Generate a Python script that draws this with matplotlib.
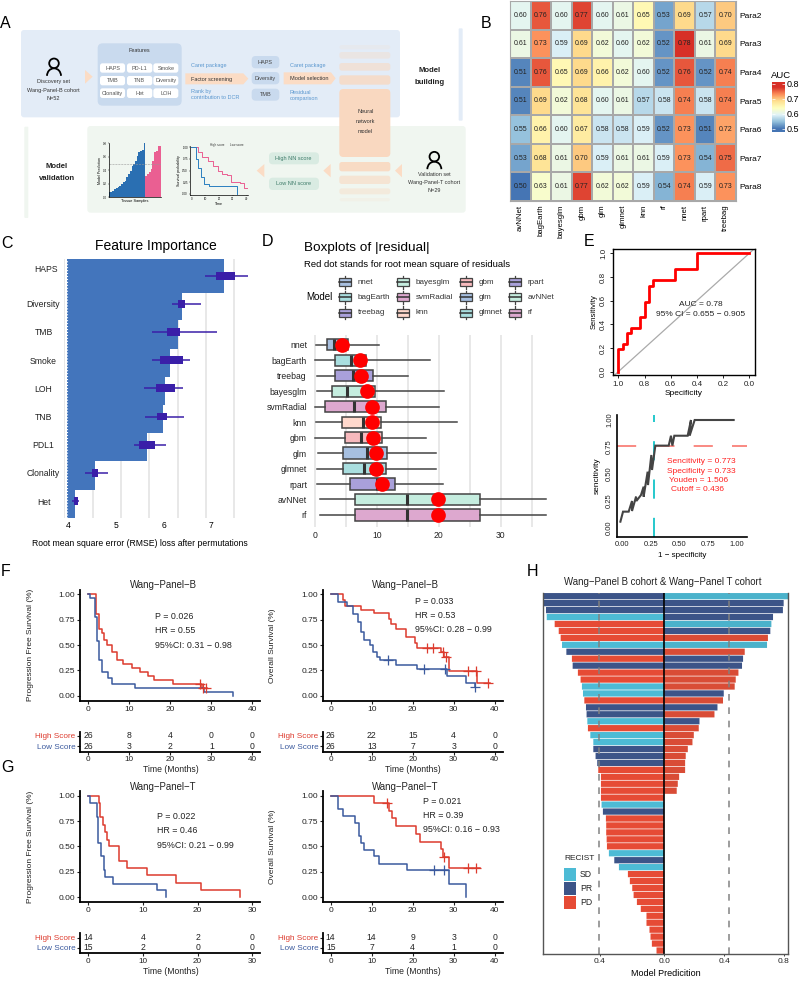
import matplotlib
matplotlib.use("Agg")
import matplotlib.pyplot as plt
import numpy as np
from matplotlib.colors import LinearSegmentedColormap
from matplotlib.patches import Arc, Circle, FancyBboxPatch, Polygon, Rectangle

plt.rcParams["font.family"] = ["Liberation Sans", "DejaVu Sans"]

W, H = 800, 981

# ---- panel B
HEAT_MODELS = ["avNNet", "bagEarth", "bayesglm", "gbm", "glm", "glmnet", "knn", "rf", "nnet", "rpart", "treebag"]
HEAT_PARAS = ["Para2", "Para3", "Para4", "Para5", "Para6", "Para7", "Para8"]
AUC = [
    [.60, .76, .60, .77, .60, .61, .65, .53, .69, .57, .70],
    [.61, .73, .59, .69, .62, .60, .62, .52, .78, .61, .69],
    [.51, .76, .65, .69, .66, .62, .60, .52, .76, .52, .74],
    [.51, .69, .62, .68, .60, .61, .57, .58, .74, .58, .74],
    [.55, .66, .60, .67, .58, .58, .59, .52, .73, .51, .72],
    [.53, .68, .61, .70, .59, .61, .61, .59, .73, .54, .75],
    [.50, .63, .61, .77, .62, .62, .59, .54, .74, .59, .73],
]
AUC_TICKS = [0.5, 0.6, 0.7, 0.8]

# ---- panel C
FEATURES = ["HAPS", "Diversity", "TMB", "Smoke", "LOH", "TNB", "PDL1", "Clonality", "Het"]
RMSE_BAR = [7.27, 6.38, 6.29, 6.14, 6.03, 5.99, 5.66, 4.57, 4.15]
RMSE_LO = [6.87, 6.17, 5.76, 5.76, 5.59, 5.60, 5.38, 4.34, 4.08]
RMSE_Q1 = [7.10, 6.30, 6.08, 5.92, 5.84, 5.85, 5.48, 4.50, 4.11]
RMSE_Q3 = [7.50, 6.45, 6.35, 6.40, 6.23, 6.07, 5.81, 4.62, 4.20]
RMSE_HI = [7.76, 6.79, 7.12, 6.55, 6.41, 6.43, 6.04, 4.83, 4.22]

# ---- panel D
RES_MODELS = ["nnet", "bagEarth", "treebag", "bayesglm", "svmRadial", "knn", "gbm", "glm", "glmnet", "rpart", "avNNet", "rf"]
RES_LO = [0.1, 0.0, 0.3, 0.4, 0.0, 0.15, 0.05, 0.5, 0.3, 0.3, 0.8, 0.8]
RES_Q1 = [2.0, 3.2, 3.3, 2.7, 1.6, 4.4, 4.8, 4.6, 4.6, 5.7, 6.4, 6.4]
RES_MED = [3.1, 5.8, 6.2, 5.1, 6.35, 7.7, 7.5, 8.45, 7.9, 10.0, 14.9, 14.9]
RES_Q3 = [5.4, 8.3, 9.4, 9.7, 11.4, 10.7, 10.8, 11.6, 11.5, 13.0, 26.7, 26.7]
RES_HI = [10.3, 18.6, 15.0, 20.8, 20.1, 23.0, 18.0, 19.6, 19.5, 20.7, 37.3, 37.3]
RES_RMS = [4.4, 7.3, 7.5, 8.45, 9.15, 9.2, 9.35, 9.8, 9.8, 10.8, 19.8, 19.8]
RES_COLORS = ["#a8bfdf", "#a9dedf", "#a9a0da", "#c5eddf", "#dda8cf", "#ffd8cc",
              "#f7b9bd", "#a6bfe0", "#a9dedf", "#a9a0da", "#c5eddf", "#dda8cf"]

# ---- panel E
ROC_SPEC = [1, 1, .967, .936, .903, .835, .80, .768, .733, .565, .40, 0]
ROC_SENS = [0, .19, .234, .324, .366, .459, .59, .727, .775, .868, 1, 1]
CUT_X = [-.014, .009, .058, .087, .087, .122, .125, .165, .188, .188, .223, .226, .255, .261, .29,
         .406, .426, .438, .455, .571, .6, .588, .632, .971]
CUT_Y = [.056, .149, .149, .248, .155, .288, .248, .303, .381, .288, .52, .396, .675, .536, .762,
         .762, .854, .762, .854, .854, 1, .854, 1, 1]

# ---- panels F, G
F1_HI_T = [0, 1.9, 2.6, 3.25, 3.8, 4.5, 5.7, 7.1, 8.4, 10.7, 12.6, 14.5, 16.1, 20.7, 27.8, 29]
F1_HI_S = [1, .81, .66, .615, .55, .5, .43, .35, .31, .27, .235, .195, .155, .12, .08, .08]
F1_LO_T = [0, .4, 1.7, 2.0, 2.5, 3.25, 4.7, 5.7, 11.4, 28.2, 35.2]
F1_LO_S = [1, .96, .78, .54, .35, .23, .17, .12, .08, .04, 0]
F1_HI_CENS = ([27.2, 28, 28.7], [.115, .077, .077])
F1_LO_CENS = ([], [])

F2_HI_T = [0, 2.9, 3.5, 7.4, 10.65, 14.1, 14.6, 15.9, 18.3, 20.6, 21, 27, 27.6, 28.9, 35.8, 38.9]
F2_HI_S = [1, .94, .885, .85, .815, .76, .71, .66, .575, .52, .47, .43, .38, .245, .13, .13]
F2_LO_T = [0, 1.7, 4, 5.5, 6.75, 7.4, 8.2, 9.6, 10.4, 11.4, 12, 15.9, 21, 28.3, 32.9, 35.2]
F2_LO_S = [1, .925, .88, .81, .73, .63, .55, .5, .43, .385, .35, .305, .26, .195, .13, .085]
F2_HI_CENS = ([23.4, 25, 27.5, 28, 33.5, 35.4, 38.4], [.47, .47, .43, .38, .245, .245, .13])
F2_LO_CENS = ([14, 22.8, 27.8, 35.2], [.35, .26, .26, .085])

G1_HI_T = [0, 1.9, 2.1, 2.75, 3, 3.5, 3.8, 5.7, 7.1, 10.7, 16, 20.7, 27.7]
G1_HI_S = [1, .925, .785, .71, .645, .56, .5, .36, .285, .215, .14, .07, 0]
G1_LO_T = [0, .4, 1.5, 1.8, 2.4, 2.9, 3, 4.6, 12.5, 14.3]
G1_LO_S = [1, .93, .785, .53, .4, .265, .2, .13, .07, 0]

G2_HI_T = [0, 10.65, 14.1, 15, 16, 20.7, 21.9, 27, 27.5, 28.9, 36.4]
G2_HI_S = [1, .93, .85, .776, .70, .62, .54, .47, .39, .29, .29]
G2_LO_T = [0, 1.7, 2.9, 5.9, 6.8, 7.5, 8.2, 10.6, 11.9, 18.5, 28.9, 33]
G2_LO_S = [1, .865, .8, .73, .6, .535, .465, .4, .33, .265, .13, 0]
G2_HI_CENS = ([13.8, 27.7, 33.5, 35.4], [.93, .39, .29, .29])
G2_LO_CENS = ([25.3, 27.7], [.265, .265])

RISK_F1 = ([26, 8, 4, 0, 0], [26, 3, 2, 1, 0])
RISK_F2 = ([26, 22, 15, 4, 0], [26, 13, 7, 3, 0])
RISK_G1 = ([14, 4, 2, 0], [15, 2, 0, 0])
RISK_G2 = ([14, 14, 9, 3, 0], [15, 7, 4, 1, 0])

# ---- panel H
LEFT_PRED = [.807, .807, .789, .784, .731, .704, .691, .682, .653, .616, .611, .576, .558, .549, .542, .533,
             .522, .518, .513, .509, .493, .473, .473, .458, .447, .44, .422, .422, .422, .422, .418, .409,
             .389, .387, .387, .384, .382, .369, .333, .302, .242, .229, .213, .204, .182, .156, .118, .118,
             .098, .091, .082, .051]
LEFT_RECIST = ["PR", "PR", "PR", "SD", "PD", "PD", "PD", "SD", "PR", "PD", "PR", "PD", "PD", "SD", "SD", "PD",
               "PR", "PR", "SD", "PD", "SD", "SD", "PR", "PR", "PR", "PD", "PD", "PD", "PD", "PD", "SD", "PR",
               "PD", "PD", "PD", "PD", "PD", "SD", "PR", "SD", "PD", "PD", "PD", "PD", "PD", "PD", "PD", "PD",
               "PD", "PD", "PD", "PD"]
RIGHT_PRED = [.829, .798, .793, .727, .716, .709, .693, .687, .538, .527, .52, .496, .478, .471, .398, .393,
              .356, .336, .236, .231, .198, .189, .158, .144, .14, .14, .1, .091, .084]
RIGHT_RECIST = ["SD", "PR", "PR", "PR", "SD", "PR", "PD", "SD", "PD", "PR", "PR", "PD", "PD", "PD", "PR", "PD",
                "PR", "PD", "PR", "PD", "PD", "PD", "PD", "PD", "PD", "PD", "PD", "PD", "PD"]
RECIST_COLORS = {"SD": "#4dbbd5", "PR": "#3c5488", "PD": "#e64b35"}
RECIST_COLORS_R = {"SD": "#4bb2cb", "PR": "#3c5488", "PD": "#d94c36"}

# ---- panel A small charts
MINI_BLUE = [.074, .084, .099, .123, .138, .148, .173, .198, .222, .247, .296, .346, .395, .469, .494, .543,
             .617, .667, .691, .701, .8]
MINI_PINK = [.321, .346, .37, .42, .543, .667, .691, .765, .765]
MINI_HI_T = [0, 5, 8, 12, 16, 19, 22, 26, 29, 35, 38, 40]
MINI_HI_S = [1, .9, .8, .7, .6, .5, .42, .4, .25, .24, .12, .12]
MINI_LO_T = [0, 3, 5, 7, 9, 13, 33]
MINI_LO_S = [1, .75, .55, .35, .2, .17, 0]

RED, BLUE = "#dd3b2e", "#3b5a9e"

fig = plt.figure(figsize=(W / 100, H / 100), dpi=100)


def px_axes(l, t, r, b, **kw):
    return fig.add_axes([l / W, 1 - b / H, (r - l) / W, (b - t) / H], **kw)


ov = fig.add_axes([0, 0, 1, 1], zorder=10)
ov.set_xlim(0, W)
ov.set_ylim(H, 0)
ov.axis("off")


def z(x, y):
    # panel A was measured on a 3x crop
    return x / 3, y / 3


def rbox(x0, y0, x1, y1, color, r=3, alpha=1.0):
    a, b = z(x0, y0)
    c, d = z(x1, y1)
    ov.add_patch(FancyBboxPatch((a + r, b + r), c - a - 2 * r, d - b - 2 * r, boxstyle=f"round,pad={r}",
                                fc=color, ec="none", alpha=alpha))


def ztext(x, y, s, size=4.0, color="#333333", ha="center", **kw):
    a, b = z(x, y)
    ov.text(a, b, s, fontsize=size, color=color, ha=ha, va="center", **kw)


def person(x, y):
    a, b = z(x, y)
    ov.add_patch(Circle((a, b), 4.8, fc="none", ec="black", lw=1.3))
    ov.add_patch(Arc((a, b + 12.5), 14, 15, theta1=180, theta2=360, ec="black", lw=1.3))


def tri(pts, color="#fbdcc5"):
    ov.add_patch(Polygon([z(*p) for p in pts], fc=color, ec="none"))


# ---- panel A
BLUE_BG, GREEN_BG, ORANGE, CHIP_BLUE, CHIP_GREEN = "#e3ecf7", "#f0f6f0", "#f9d8c0", "#c9daee", "#d9ebe2"
LINK = "#5b97cf"
rbox(63, 90, 1200, 352, BLUE_BG)
rbox(262, 378, 1397, 638, GREEN_BG)
rbox(1376, 85, 1388, 362, BLUE_BG, r=1)
rbox(73, 380, 85, 654, GREEN_BG, r=1)

person(162, 190)
ztext(161, 246, "Discovery set")
ztext(161, 271, "Wang-Panel-B cohort")
ztext(161, 295, "N=52")
tri([(255, 210), (278, 230), (255, 251)])

rbox(293, 130, 545, 317, CHIP_BLUE, r=5)
ztext(419, 151, "Features")
chip_names = [["HAPS", "PD-L1", "Smoke"], ["TMB", "TNB", "Diversity"], ["Clonality", "Het", "LOH"]]
for ry, row_names in zip([(190, 218), (228, 256), (265, 294)], chip_names):
    for cx, nm in zip([(300, 375), (381, 457), (460, 535)], row_names):
        rbox(cx[0], ry[0], cx[1], ry[1], "white", r=2.5)
        ztext(sum(cx) / 2, sum(ry) / 2, nm, color="#555555")

tri([(556, 220), (730, 220), (745, 236), (730, 253), (556, 253)])
ztext(572, 237, "Factor screening", ha="left")
ztext(572, 197, "Caret package", ha="left", color=LINK)
ztext(572, 275, "Rank by", ha="left", color=LINK)
ztext(572, 293, "contribution to DCR", ha="left", color=LINK)
for (y0, y1), nm in zip([(168, 205), (216, 253), (266, 302)], ["HAPS", "Diversity", "TMB"]):
    rbox(755, y0, 838, y1, CHIP_BLUE, r=4)
    ztext(796, (y0 + y1) / 2, nm, color="#444444")
tri([(851, 217), (993, 217), (1007, 235), (993, 253), (851, 253)])
ztext(870, 236, "Model selection", ha="left")
ztext(870, 197, "Caret package", ha="left", color=LINK)
ztext(869, 276, "Residual", ha="left", color=LINK)
ztext(869, 295, "comparison", ha="left", color=LINK)

for (y0, y1), al in zip([(135, 148), (156, 176), (189, 212), (226, 254), (486, 514), (527, 552), (565, 583), (594, 604)],
                        [.15, .35, .55, .8, .9, .6, .4, .15]):
    rbox(1018, y0, 1171, y1, ORANGE, r=2.5, alpha=al)
rbox(1018, 267, 1171, 471, ORANGE, r=4)
for yy, s in zip([335, 365, 395], ["Neural", "network", "model"]):
    ztext(1096, yy, s)
ztext(1290, 212, "Model", size=5.6, weight="bold", color="#222222")
ztext(1290, 247, "building", size=5.6, weight="bold", color="#222222")
ztext(170, 501, "Model", size=5.6, weight="bold", color="#222222")
ztext(170, 535, "validation", size=5.6, weight="bold", color="#222222")

rbox(807, 457, 957, 493, CHIP_GREEN, r=4)
rbox(807, 533, 957, 570, CHIP_GREEN, r=4)
ztext(881, 476, "High NN score", color="#3c7a68")
ztext(881, 551, "Low NN score", color="#3c7a68")
for tipx, basex in [(770, 793), (970, 992), (1185, 1206)]:
    tri([(basex, 492), (tipx, 512), (basex, 532)])
person(1303, 470)
ztext(1303, 524, "Validation set")
ztext(1303, 548, "Wang-Panel-T cohort")
ztext(1303, 573, "N=29")

mini_bar = px_axes(109, 143.3, 161, 197.3, zorder=11)
xb = np.arange(len(MINI_BLUE))
xp = len(MINI_BLUE) + np.arange(len(MINI_PINK))
mini_bar.bar(xb, MINI_BLUE, width=1, color="#2a6fb2")
mini_bar.bar(xp, MINI_PINK, width=1, color="#ea5f92")
mini_bar.axhline(.5, color="#999999", lw=.4, ls="--")
mini_bar.set_xlim(-.5, len(MINI_BLUE) + len(MINI_PINK) - .5)
mini_bar.set_ylim(0, .8)
mini_bar.set_xticks([])
mini_bar.set_yticks([0, .2, .4, .6, .8], ["0.0", "0.2", "0.4", "0.6", "0.8"])
mini_bar.tick_params(labelsize=2, length=1, width=.3, pad=.5)
mini_bar.set_facecolor("none")
mini_bar.set_xlabel("Tissue Samples", fontsize=2.8, labelpad=1)
mini_bar.set_ylabel("Model Prediction", fontsize=2.6, labelpad=1)
for sp in ["top", "right"]:
    mini_bar.spines[sp].set_visible(False)
for sp in ["left", "bottom"]:
    mini_bar.spines[sp].set_linewidth(.5)

mini_km = px_axes(190, 146, 248, 195, zorder=11)
mini_km.step(MINI_HI_T, MINI_HI_S, where="post", color="#ea5f92", lw=.7)
mini_km.step(MINI_LO_T, MINI_LO_S, where="post", color="#2a7fc0", lw=.7)
mini_km.set_xlim(-1, 41)
mini_km.set_ylim(-.03, 1.03)
mini_km.set_xticks([0, 10, 20, 30, 40])
mini_km.set_yticks([0, .25, .5, .75, 1], ["0.00", "0.25", "0.50", "0.75", "1.00"])
mini_km.tick_params(labelsize=2, length=1, width=.3, pad=.5)
mini_km.set_facecolor("none")
mini_km.set_xlabel("Time", fontsize=2.6, labelpad=.5)
mini_km.set_ylabel("Survival probability", fontsize=2.6, labelpad=1)
for sp in ["top", "right"]:
    mini_km.spines[sp].set_visible(False)
for sp in ["left", "bottom"]:
    mini_km.spines[sp].set_linewidth(.5)
ztext(630, 435, "High score", size=2.2, ha="left")
ztext(690, 435, "Low score", size=2.2, ha="left")

# ---- panel B
heat_cmap = LinearSegmentedColormap.from_list(
    "auc", ["#4575b4", "#91bfdb", "#e0f3f8", "#ffffbf", "#fee090", "#fc8d59", "#d73027"])
ax = px_axes(510, 1, 736, 201)
ax.pcolormesh(AUC, cmap=heat_cmap, vmin=.5, vmax=.78, edgecolors="#a8a8a8", linewidth=1.2)
ax.set_ylim(len(HEAT_PARAS), 0)
for i, row in enumerate(AUC):
    for j, v in enumerate(row):
        ax.text(j + .5, i + .5, f"{v:.2f}", ha="center", va="center", fontsize=5, color="#222222")
ax.set_xticks(np.arange(len(HEAT_MODELS)) + .5, HEAT_MODELS, rotation=90, fontsize=5.6)
ax.yaxis.tick_right()
ax.set_yticks(np.arange(len(HEAT_PARAS)) + .5, HEAT_PARAS, fontsize=6)
ax.tick_params(length=0, pad=2.5)
for sp in ax.spines.values():
    sp.set_color("#a8a8a8")

cb = px_axes(772, 82, 785, 132)
cb_vals = np.linspace(.813, .48, 100).reshape(-1, 1)
cb.imshow(cb_vals, aspect="auto", cmap=heat_cmap, vmin=.5, vmax=.78, extent=(0, 1, .48, .813))
cb.set_xticks([])
cb.yaxis.tick_right()
cb.set_yticks(AUC_TICKS, [f"{t:.1f}" for t in AUC_TICKS], fontsize=6.5)
cb.tick_params(axis="y", length=0, pad=1.5)
cb.hlines(AUC_TICKS, 0, .2, color="white", lw=.5)
cb.hlines(AUC_TICKS, .8, 1, color="white", lw=.5)
for sp in cb.spines.values():
    sp.set_visible(False)
ov.text(781, 75, "AUC", fontsize=6.8, ha="center", va="center")

# ---- panel C
ax = px_axes(64, 259, 250, 518)
ax.set_xlim(3.91, 7.81)
ax.set_ylim(8.6, -.59)
ax.vlines([3.916, 4.51, 5.10, 5.70, 6.29, 6.89, 7.48], 8.6, -.59, color="#e4e4e4", lw=1.2, zorder=0)
rows = np.arange(len(FEATURES))
offsets = [0] + [.09] * (len(FEATURES) - 1)
heights = [1.2] + [1.0] * (len(FEATURES) - 1)
ax.barh(rows + np.array(offsets), np.array(RMSE_BAR) - 3.965, left=3.965, height=heights, color="#4375bc", zorder=1)
ax.vlines(3.965, 8.6, -.59, color="white", lw=.8, ls=":", zorder=2)
ax.hlines(rows, RMSE_LO, RMSE_HI, color="#3a1fa8", lw=1.1, zorder=3)
ax.barh(rows, np.array(RMSE_Q3) - np.array(RMSE_Q1), left=RMSE_Q1, height=.28, color="#3a1fa8", zorder=4)
ax.set_yticks([])
ax.set_xticks([4, 5, 6, 7])
ax.tick_params(axis="x", length=0, labelsize=6.2, pad=2.5)
for sp in ax.spines.values():
    sp.set_visible(False)
for i, nm in enumerate(FEATURES):
    ov.text(46 if i == 0 else 43.5, 235 + ((102 if i == 0 else 209 + 84.6 * (i - 1)) / 3), nm,
            fontsize=6.2, ha="center", va="center", color="#222222")
ov.text(156, 246, "Feature Importance", fontsize=10, ha="center", va="center")
ov.text(139.5, 544, "Root mean square error (RMSE) loss after permutations", fontsize=6.2, ha="center", va="center")

# ---- panel D
ax = px_axes(309, 335, 547, 527)
ax.set_xlim(-6 / 6.19, 232 / 6.19)
ax.vlines(np.arange(0, 36, 5), 12, -1, color="#e4e4e4", lw=1.2, zorder=0)
stats = [dict(med=m, q1=a, q3=b, whislo=lo, whishi=hi, fliers=[])
         for m, a, b, lo, hi in zip(RES_MED, RES_Q1, RES_Q3, RES_LO, RES_HI)]
bp = ax.bxp(stats, positions=np.arange(len(stats)), widths=.72, orientation="horizontal", patch_artist=True,
            showcaps=False, showfliers=False,
            boxprops=dict(edgecolor="#444444", linewidth=1.1),
            whiskerprops=dict(color="#444444", linewidth=1.1),
            medianprops=dict(color="#333333", linewidth=2.2))
for box, col in zip(bp["boxes"], RES_COLORS):
    box.set_facecolor(col)
ax.scatter(RES_RMS, np.arange(len(RES_RMS)), s=112, color="#ff0000", zorder=5, linewidths=0)
ax.set_ylim(11.5 + (527 - 522.6) / 15.8, -.63)
ax.set_yticks(np.arange(len(RES_MODELS)), RES_MODELS)
ax.set_xticks([0, 10, 20, 30], ["0", "10", "20", "30"])
ax.tick_params(length=0, labelsize=6.2, colors="#222222")
ax.tick_params(axis="y", pad=1.5)
ax.tick_params(axis="x", pad=3)
for sp in ax.spines.values():
    sp.set_visible(False)

ov.text(304, 248, "Boxplots of |residual|", fontsize=9.7, ha="left", va="center")
ov.text(303.5, 264.5, "Red dot stands for root mean square of residuals", fontsize=6.8, ha="left", va="center")
ov.text(306, 297.5, "Model", fontsize=7, ha="left", va="center")
for idx, nm in enumerate(["nnet", "bagEarth", "treebag", "bayesglm", "svmRadial", "knn",
                          "gbm", "glm", "glmnet", "rpart", "avNNet", "rf"]):
    col, row = idx // 3, idx % 3
    cx = [345, 403.3, 466, 515][col]
    tx = [358, 416, 478.7, 528][col]
    cy = 282 + row * 15.4
    fc = RES_COLORS[RES_MODELS.index(nm)]
    ov.plot([cx, cx], [cy - 6.5, cy + 6.5], color="#444444", lw=.9, zorder=1)
    ov.add_patch(Rectangle((cx - 6, cy - 4), 12, 8, fc=fc, ec="#444444", lw=.9, zorder=2))
    ov.plot([cx - 6, cx + 6], [cy, cy], color="#333333", lw=1.1, zorder=3)
    ov.text(tx, cy, nm, fontsize=5.8, ha="left", va="center", color="#333333")

# ---- panel E
ax = px_axes(612.7, 249, 754.7, 375)
ax.set_xlim(1 + 5.6 / 131, -5.4 / 131)
ax.set_ylim(-3.3 / 118.4, 1 + 4.3 / 118.4)
ax.plot([1.05, -.05], [-.05, 1.05], color="#aaaaaa", lw=.9)
ax.step(ROC_SPEC, ROC_SENS, where="post", color="#ff0000", lw=2)
ax.set_xticks([1, .8, .6, .4, .2, 0], ["1.0", "0.8", "0.6", "0.4", "0.2", "0.0"])
ax.set_yticks([0, .2, .4, .6, .8, 1], ["0.0", "0.2", "0.4", "0.6", "0.8", "1.0"], rotation=90, va="center")
ax.tick_params(labelsize=5.8, length=2.5, width=.7, pad=1.5, colors="#222222")
ax.set_xlabel("Specificity", fontsize=6, labelpad=2)
ax.set_ylabel("Sensitivity", fontsize=5.5, labelpad=1.5)
for sp in ax.spines.values():
    sp.set_linewidth(1)
ov.text(700.5, 304, "AUC = 0.78", fontsize=6, ha="center", va="center", color="#222222")
ov.text(700.5, 314, "95% CI = 0.655 \u2212 0.905", fontsize=6, ha="center", va="center", color="#222222")

ax = px_axes(617.3, 415, 747, 537)
ax.set_xlim(-4.7 / 115, 125 / 115)
ax.set_ylim(-9.3 / 107.7, 1 + 5 / 107.7)
ax.axhline(.762, color="#f8766d", lw=1.2, dashes=(11.5, 11.5))
ax.axvline(.275, color="#00bfc4", lw=1.2, dashes=(11.5, 11.5))
ax.plot(CUT_X, CUT_Y, color="#444444", lw=1.5, solid_joinstyle="miter")
ax.set_xticks([0, .25, .5, .75, 1], ["0.00", "0.25", "0.50", "0.75", "1.00"])
ax.set_yticks([0, .25, .5, .75, 1], ["0.00", "0.25", "0.50", "0.75", "1.00"], rotation=90, va="center")
ax.tick_params(labelsize=5.5, length=0, pad=3, colors="#222222")
ax.set_xlabel("1 \u2212 specificity", fontsize=5.8, labelpad=2.5)
ax.set_ylabel("sencitivity", fontsize=6, labelpad=4)
for sp in ["top", "right"]:
    ax.spines[sp].set_visible(False)
for sp in ["left", "bottom"]:
    ax.spines[sp].set_linewidth(1.2)
for tx, yy, s in [(667, 461.7, "Sencitivity = 0.773"), (667, 471.7, "Specificity = 0.733"),
                  (669.3, 480, "Youden = 1.506"), (670.7, 489.3, "Cutoff = 0.436")]:
    ov.text(tx, yy, s, fontsize=6, color="#ff2020", ha="left", va="center")


# ---- panels F, G
def km(l, r, top, bot, x0, kx, y1, y0, ticks, hi, lo, hi_c, lo_c, ylabel, title, title_xy, notes, risk, rt, rb,
       ylab_x, r_rows, lab_xy):
    ax = px_axes(l, top, r, bot)
    ax.set_xlim((l - x0) / kx, (r - x0) / kx)
    ky = y0 - y1
    ax.set_ylim((y0 - bot) / ky, (y0 - top) / ky)
    ax.step(hi[0], hi[1], where="post", color=RED, lw=1.1)
    ax.step(lo[0], lo[1], where="post", color=BLUE, lw=1.1)
    if hi_c[0]:
        ax.plot(hi_c[0], hi_c[1], "+", color=RED, ms=7, mew=.9)
    if lo_c[0]:
        ax.plot(lo_c[0], lo_c[1], "+", color=BLUE, ms=7, mew=.9)
    ax.set_xticks(ticks)
    ax.set_yticks([0, .25, .5, .75, 1], ["0.00", "0.25", "0.50", "0.75", "1.00"])
    ax.tick_params(labelsize=6, length=2, width=.8, pad=1.5, colors="#222222")
    for sp in ["top", "right"]:
        ax.spines[sp].set_visible(False)
    for sp in ["left", "bottom"]:
        ax.spines[sp].set_linewidth(1.3)
    ov.text(ylab_x, (top + bot) / 2, ylabel, rotation=90, fontsize=6, ha="center", va="center", color="#222222")
    ov.text(title_xy[0], title_xy[1], title, fontsize=6.9, ha="center", va="center", color="#222222")
    for (nx, ny), s in notes:
        ov.text(nx, ny, s, fontsize=6.4, ha="left", va="center", color="#222222")

    # number at risk table under the curves
    tb = px_axes(l, rt, r, rb)
    tb.set_xlim(ax.get_xlim())
    span = r_rows[1] - r_rows[0]
    tb.set_ylim((rb - r_rows[0]) / span, (rt - r_rows[0]) / span)
    for row_i, vals in enumerate(risk):
        for t, v in zip(ticks, vals):
            tb.text(t, row_i, str(v), fontsize=6.2, ha="center", va="center", color="#222222")
    tb.set_xticks(ticks)
    tb.set_yticks([0, 1], ["High Score", "Low Score"])
    tb.tick_params(labelsize=5.9, length=2, width=.8, pad=1.2, colors="#222222")
    tb.get_yticklabels()[0].set_color(RED)
    tb.get_yticklabels()[1].set_color(BLUE)
    for sp in ["top", "right"]:
        tb.spines[sp].set_visible(False)
    for sp in ["left", "bottom"]:
        tb.spines[sp].set_linewidth(1.3)
    ov.text(lab_xy[0], lab_xy[1], "Time (Months)", fontsize=6.2, ha="center", va="center", color="#222222")


km(80, 260, 590, 700.7, 88.3, 4.1, 594.3, 695.7, [0, 10, 20, 30, 40], (F1_HI_T, F1_HI_S), (F1_LO_T, F1_LO_S),
   F1_HI_CENS, F1_LO_CENS, "Progression Free Survival (%)", "Wang\u2212Panel\u2212B", (163, 584.7),
   [((155.3, 616.7), "P = 0.026"), ((155.3, 630.7), "HR = 0.55"), ((154.7, 645), "95%CI: 0.31 \u2212 0.98")],
   RISK_F1, 731.7, 752, 30, (736, 746.3), (170.5, 770))
km(322.7, 502.7, 590, 700.7, 330.7, 4.1, 594.3, 695.7, [0, 10, 20, 30, 40], (F2_HI_T, F2_HI_S), (F2_LO_T, F2_LO_S),
   F2_HI_CENS, F2_LO_CENS, "Overall Survival (%)", "Wang\u2212Panel\u2212B", (405, 584.7),
   [((414.7, 601), "P = 0.033"), ((414.7, 615.3), "HR = 0.53"), ((414.7, 629.7), "95%CI: 0.28 \u2212 0.99")],
   RISK_F2, 731.7, 752, 272.5, (736, 746.3), (413, 770))
km(80, 260, 790.7, 902.3, 88.3, 5.467, 795.7, 897, [0, 10, 20, 30], (G1_HI_T, G1_HI_S), (G1_LO_T, G1_LO_S),
   ([], []), ([], []), "Progression Free Survival (%)", "Wang\u2212Panel\u2212T", (163, 787),
   [((156.7, 816.7), "P = 0.022"), ((156.7, 830.7), "HR = 0.46"), ((156.7, 845), "95%CI: 0.21 \u2212 0.99")],
   RISK_G1, 932.7, 953.3, 30, (938, 948), (170.5, 971))
km(322.7, 502.7, 790.7, 902.3, 330.7, 4.1, 795.7, 897, [0, 10, 20, 30, 40], (G2_HI_T, G2_HI_S), (G2_LO_T, G2_LO_S),
   G2_HI_CENS, G2_LO_CENS, "Overall Survival (%)", "Wang\u2212Panel\u2212T", (405, 787),
   [((423.3, 801), "P = 0.021"), ((423.3, 815.3), "HR = 0.39"), ((423.3, 829.7), "95%CI: 0.16 \u2212 0.93")],
   RISK_G2, 932.7, 953.3, 272.5, (938, 948), (413, 971))

# ---- panel H
ax = px_axes(543.3, 592.7, 788, 954)
ax.set_xlim(-.807, .827)
ax.set_ylim(len(LEFT_PRED) - .5, -.5)
left_bars = ax.barh(np.arange(len(LEFT_PRED)), -np.array(LEFT_PRED), height=.9,
                    color=[RECIST_COLORS[c] for c in LEFT_RECIST])
right_bars = ax.barh(np.arange(len(RIGHT_PRED)), RIGHT_PRED, height=.9,
                     color=[RECIST_COLORS_R[c] for c in RIGHT_RECIST])
for p in list(left_bars) + list(right_bars):
    p.set_snap(False)
ax.axvline(0, color="black", lw=1.2)
ax.axvline(-.436, color="#808080", lw=1.2, dashes=(4, 4), alpha=.9)
ax.axvline(.436, color="#808080", lw=1.2, dashes=(4, 4), alpha=.9)
ax.set_yticks([])
ax.set_xticks([-.43, 0, .4, .8], ["0.4", "0.0", "0.4", "0.8"])
ax.tick_params(labelsize=6, length=1.5, width=.6, pad=1.5, colors="#222222")
ax.set_xlabel("Model Predicition", fontsize=6.5, labelpad=3)
ax.spines["top"].set_visible(False)
for sp in ["left", "right", "bottom"]:
    ax.spines[sp].set_color("#555555")
    ax.spines[sp].set_linewidth(1)
ov.text(663, 582, "Wang\u2212Panel B cohort & Wang\u2212Panel T cohort", fontsize=6.9, ha="center", va="center", color="#222222")
ov.text(564, 859, "RECIST", fontsize=6, ha="left", va="center", color="#222222")
for y0, lab in zip([868, 882, 896], ["SD", "PR", "PD"]):
    ov.add_patch(Rectangle((564, y0), 12, 13, fc=RECIST_COLORS[lab], ec="none"))
    ov.text(580, y0 + 6.5, lab, fontsize=6.2, ha="left", va="center", color="#222222")

# ---- panel letters
for s, x, y in [("A", 0, 23), ("B", 481, 23), ("C", 1, 243), ("D", 262, 242), ("E", 584, 241),
                ("F", 1, 571), ("G", 1, 768), ("H", 527, 572)]:
    ov.text(x, y, s, fontsize=11.5, ha="left", va="center")

fig.savefig("out.png", dpi=100)
